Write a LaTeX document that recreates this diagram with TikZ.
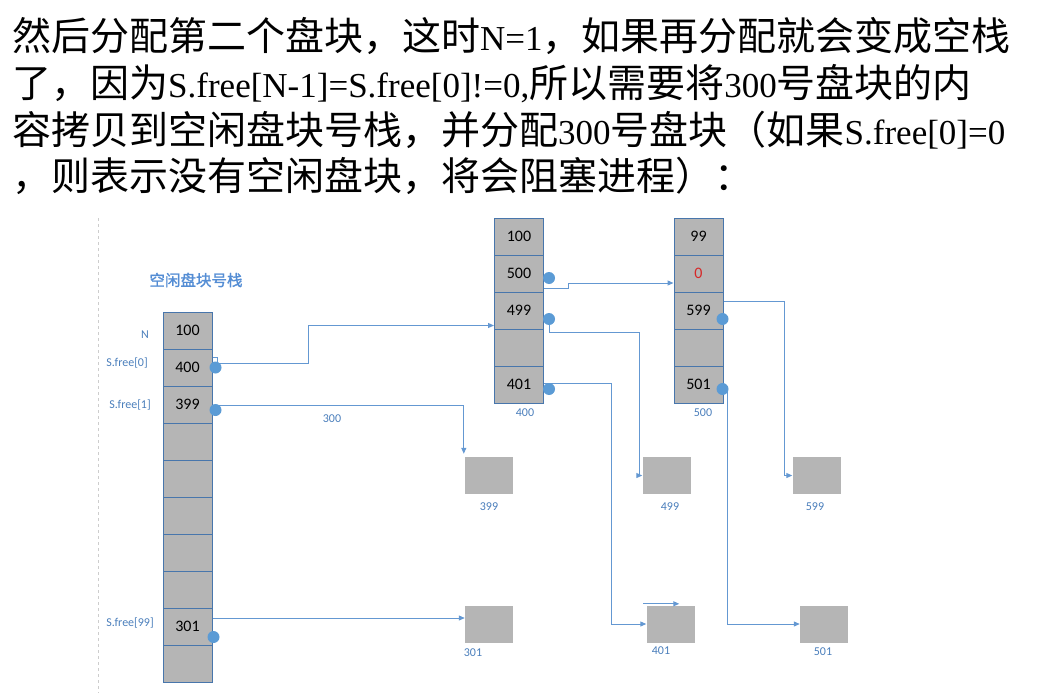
\documentclass[tikz,border=0pt]{standalone}
\usepackage{fontspec}
\setmainfont{Liberation Serif}
\newfontfamily\cjk{Noto Sans CJK SC}
\newfontfamily\cjkbold[FakeBold=1.5]{Noto Sans CJK SC}
\newfontfamily\calfont{Carlito}
\usepackage{tikz}
\usetikzlibrary{arrows.meta,calc}
\definecolor{linkblue}{RGB}{100,152,210}
\definecolor{dotblue}{RGB}{91,155,213}
\definecolor{cellgray}{RGB}{181,181,181}
\definecolor{cellline}{RGB}{72,118,172}
\definecolor{lblblue}{RGB}{74,126,187}
\definecolor{titleblue}{RGB}{84,141,212}
\definecolor{zerored}{RGB}{214,40,40}
\definecolor{dashgray}{RGB}{205,205,205}
\newcommand{\zh}[1]{{\cjk\fontsize{39}{47}\selectfont #1}}
\tikzset{
  txtline/.style={anchor=base west,inner sep=0pt,font=\fontsize{35}{47}\selectfont},
  cellnode/.style={rectangle,draw=cellline,line width=1pt,fill=cellgray,minimum width=49pt,minimum height=37pt,inner sep=0pt,font=\calfont\fontsize{16}{18}\selectfont},
  blknode/.style={rectangle,fill=cellgray,minimum width=48pt,minimum height=37pt,inner sep=0pt},
  dotnode/.style={circle,fill=dotblue,minimum size=12pt,inner sep=0pt},
  lblnode/.style={inner sep=0pt,text=lblblue,font=\calfont\fontsize{12}{14}\selectfont},
  linkarr/.style={-{Triangle[length=6pt,width=5pt]},draw=linkblue,line width=1pt}
}
\begin{document}
\begin{tikzpicture}[x=1pt,y=-1pt]
  \useasboundingbox (0,0) rectangle (1055,693);

  %% Explanation text
  \node[txtline] (l1) at (12,51) {\zh{然后分配第二个盘块，这时}N=1\zh{，如果再分配就会变成空栈}};
  \node[txtline] (l2) at (12,97.5) {\zh{了，因为}S.free[N-1]=S.free[0]!=0,\zh{所以需要将}300\zh{号盘块的内}};
  \node[txtline] (l3) at (12,144) {\zh{容拷贝到空闲盘块号栈，并分配}300\zh{号盘块（如果}S.free[0]=0};
  \node[txtline] (l4) at (12,190.5) {\zh{，则表示没有空闲盘块，将会阻塞进程）：}};

  %% Dashed margin line
  \draw[dashgray,dashed,line width=1pt] (98,218) -- (98,693);

  %% Free block stack
  \node[font=\cjkbold\fontsize{15.5}{18}\selectfont,text=titleblue] (title) at (196,280) {空闲盘块号栈};
  \foreach \i/\v in {1/100,2/400,3/399,4/{},5/{},6/{},7/{},8/{},9/301,10/{}} {
    \node[cellnode] (s\i) at (187.5,{293.5+37*\i}) {\v};
  }
  \node[lblnode] (lblN) at (145,335) {N};
  \node[lblnode] (lblf0) at (127,363) {S.free[0]};
  \node[lblnode] (lblf1) at (130,405) {S.free[1]};
  \node[lblnode] (lblf99) at (130,623) {S.free[99]};

  %% Block 400 and block 500
  \foreach \i/\v in {1/100,2/500,3/499,4/{},5/401} {
    \node[cellnode] (a\i) at (519,{199.5+37*\i}) {\v};
  }
  \foreach \i/\v in {1/99,2/{\textcolor{zerored}{0}},3/599,4/{},5/501} {
    \node[cellnode] (b\i) at (698.5,{199.5+37*\i}) {\v};
  }
  \node[lblnode] (lbl400) at (525,413) {400};
  \node[lblnode] (lbl500) at (703,413) {500};

  %% Free blocks
  \node[blknode] (blk399) at (489,475.5) {};
  \node[blknode] (blk499) at (666.5,475.5) {};
  \node[blknode] (blk599) at (816.5,475.5) {};
  \node[blknode] (blk301) at (489,624) {};
  \node[blknode] (blk401) at (670.5,624) {};
  \node[blknode] (blk501) at (824,624) {};
  \node[lblnode] (lbl399) at (489,507) {399};
  \node[lblnode] (lbl499) at (670,507) {499};
  \node[lblnode] (lbl599) at (815,507) {599};
  \node[lblnode] (lbl301) at (473,653) {301};
  \node[lblnode] (lbl401) at (661,651) {401};
  \node[lblnode] (lbl501) at (823,652) {501};

  %% Links
  \draw[linkarr] ([yshift=10pt]s2.east) -- ++(5,0) -- ++(0,6) -- ++(91,0) |- ([yshift=-15pt]a3.west);
  \draw[linkarr] ([yshift=-0.5pt]s3.east) -| ([xshift=-1pt,yshift=3pt]blk399.north west);
  \node[lblnode] (lbl300) at (332,419) {300};
  \draw[linkarr] ([yshift=8.5pt]s9.east) -- ([yshift=8.5pt]s9.east -| blk301.west);
  \draw[linkarr] ([yshift=-14.5pt]a2.east) -- ++(24,0) -- ++(0,-5) -- ([yshift=-9.5pt]b2.west);
  \draw[linkarr] ([xshift=5pt,yshift=-8.5pt]a3.east) -- ++(0,13) -- ++(90,0) |- (blk499.west);
  \draw[linkarr] ([yshift=1.5pt]a5.east) -- ++(67,0) |- (blk401.west);
  \draw[linkarr] ([xshift=-3pt,yshift=1.5pt]blk401.north west) -- ++(36,0);
  \draw[linkarr] ([yshift=9.5pt]b3.east) -- ++(61,0) |- (blk599.west);
  \draw[linkarr] ([xshift=4pt,yshift=-4.5pt]b5.east) |- (blk501.west);

  %% Pointer dots
  \node[dotnode] (dot400) at ([xshift=3pt]s2.east) {};
  \node[dotnode] (dot399) at ([xshift=3pt,yshift=-5.5pt]s3.east) {};
  \node[dotnode] (dot301) at ([xshift=1pt,yshift=-10.5pt]s9.east) {};
  \node[dotnode] (dot500) at ([xshift=5pt,yshift=-4.5pt]a2.east) {};
  \node[dotnode] (dot499) at ([xshift=5pt,yshift=-8.5pt]a3.east) {};
  \node[dotnode] (dot401) at ([xshift=5pt,yshift=-4.5pt]a5.east) {};
  \node[dotnode] (dot599) at ([xshift=-1pt,yshift=-8.5pt]b3.east) {};
  \node[dotnode] (dot501) at ([xshift=-1pt,yshift=-4.5pt]b5.east) {};
\end{tikzpicture}
\end{document}
